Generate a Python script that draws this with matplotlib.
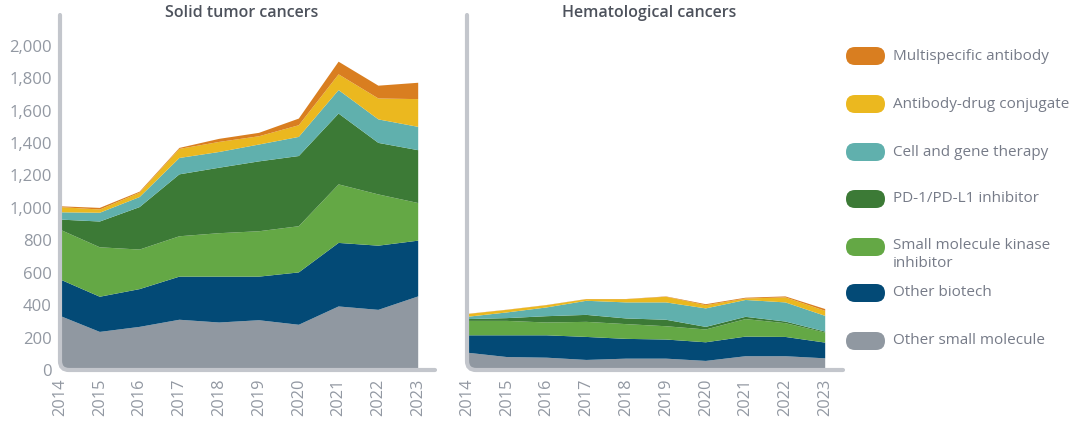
import matplotlib
matplotlib.use("Agg")
import matplotlib.pyplot as plt
from matplotlib.patches import FancyBboxPatch
from matplotlib.path import Path
from matplotlib.patches import PathPatch
from matplotlib.transforms import IdentityTransform
import numpy as np

plt.rcParams['font.family'] = ['Open Sans', 'DejaVu Sans']

years = [2014, 2015, 2016, 2017, 2018, 2019, 2020, 2021, 2022, 2023]
categories = ["Other small molecule", "Other biotech", "Small molecule kinase\ninhibitor",
              "PD-1/PD-L1 inhibitor", "Cell and gene therapy", "Antibody-drug conjugate",
              "Multispecific antibody"]
colors = ["#9098a1", "#034a76", "#64a845", "#3c7a36", "#60b0ad", "#ebb81f", "#d97e20"]

# Solid tumor cancers (stacked increments)
solid_other_small = [334, 235, 266, 310, 293, 307, 279, 392, 371, 454]
solid_other_bio = [225, 217, 233, 266, 283, 269, 323, 392, 396, 344]
solid_kinase = [307, 305, 244, 249, 268, 280, 285, 361, 316, 232]
solid_pd1 = [62, 159, 262, 382, 404, 431, 433, 437, 318, 326]
solid_cgt = [45, 54, 62, 101, 97, 104, 118, 145, 145, 144]
solid_adc = [32, 20, 27, 56, 62, 51, 72, 97, 129, 171]
solid_multi = [5, 10, 6, 6, 19, 21, 41, 78, 79, 101]

# Hematological cancers (stacked increments)
heme_other_small = [107, 80, 76, 62, 70, 70, 56, 85, 85, 72]
heme_other_bio = [107, 134, 138, 142, 122, 118, 115, 121, 119, 97]
heme_kinase = [89, 89, 79, 93, 91, 82, 79, 108, 85, 62]
heme_pd1 = [11, 17, 39, 43, 35, 40, 16, 14, 10, 6]
heme_cgt = [14, 35, 54, 87, 99, 107, 114, 104, 118, 97]
heme_adc = [17, 16, 14, 10, 20, 35, 20, 9, 31, 31]
heme_multi = [1, 1, 1, 1, 1, 2, 6, 5, 6, 11]

solid = [solid_other_small, solid_other_bio, solid_kinase, solid_pd1, solid_cgt, solid_adc, solid_multi]
heme = [heme_other_small, heme_other_bio, heme_kinase, heme_pd1, heme_cgt, heme_adc, heme_multi]

W, H = 1080, 425
fig = plt.figure(figsize=(W / 100, H / 100), dpi=100)

axis_col = "#c3c6cc"
tick_col = "#9298a2"
title_col = "#4d525c"

panels = [
    (solid, "Solid tumor cancers", 60, 435, True),
    (heme, "Hematological cancers", 467, 843, False),
]
y_top_px, y_bot_px = 15, 370
ymin, ymax = 0, 2190

for data, title, x0, x1, show_y in panels:
    ax = fig.add_axes([x0 / W, (H - y_bot_px) / H, (x1 - x0) / W, (y_bot_px - y_top_px) / H])
    polys = ax.stackplot(years, *data, colors=colors, linewidth=0)
    ax.set_xlim(2014, 2014 + (x1 - x0) / 39.8)
    ax.set_ylim(ymin, ymax)
    for s in ax.spines.values():
        s.set_visible(False)
    ax.set_xticks(years)
    ax.set_xticklabels([str(y) for y in years], rotation=90, fontsize=11.8, color=tick_col)
    ax.tick_params(axis='both', length=0, pad=6)
    if show_y:
        ax.set_yticks(range(0, 2001, 200))
        ax.set_yticklabels([f"{v:,}" for v in range(0, 2001, 200)], fontsize=12, color=tick_col)
    else:
        ax.set_yticks([])
    ax.patch.set_visible(False)
    # rounded clip
    clip = FancyBboxPatch((x0, H - y_bot_px), (x1 - x0), (y_bot_px - y_top_px),
                          boxstyle="round,pad=0,rounding_size=9",
                          transform=IdentityTransform(), facecolor='none', edgecolor='none')
    fig.add_artist(clip)
    for p in polys:
        p.set_clip_path(clip)
    # rounded axis line
    r = 9
    xa, ya_bot, ya_top = x0, H - y_bot_px, H - y_top_px
    verts = [(xa / W, ya_top / H), (xa / W, (ya_bot + r) / H), (xa / W, ya_bot / H),
             ((xa + r) / W, ya_bot / H), (x1 / W, ya_bot / H)]
    codes = [Path.MOVETO, Path.LINETO, Path.CURVE3, Path.CURVE3, Path.LINETO]
    fig.add_artist(PathPatch(Path(verts, codes), transform=fig.transFigure, facecolor='none',
                             edgecolor=axis_col, linewidth=3, capstyle='round'))
    fig.text((x0 + x1) / 2 / W - 6 / W, 1 - 13 / H, title, ha='center', va='center',
             fontsize=11.5, color=title_col, fontweight='semibold')

# Legend
leg_y = [56, 104, 152, 199, 247, 293, 341]
leg_items = list(zip(categories, colors))[::-1]
for (lab, col), yy in zip(leg_items, leg_y):
    fig.add_artist(FancyBboxPatch((846, H - yy - 9), 39, 18,
                                  boxstyle="round,pad=0,rounding_size=9",
                                  transform=IdentityTransform(), facecolor=col, edgecolor='none'))
    if "\n" in lab:
        fig.text(893 / W, 1 - (yy - 9) / H, lab, ha='left', va='top', fontsize=11,
                 color="#767b88", linespacing=1.3)
    else:
        fig.text(893 / W, 1 - yy / H, lab, ha='left', va='center', fontsize=11, color="#767b88")

fig.savefig("out.png", dpi=100)
